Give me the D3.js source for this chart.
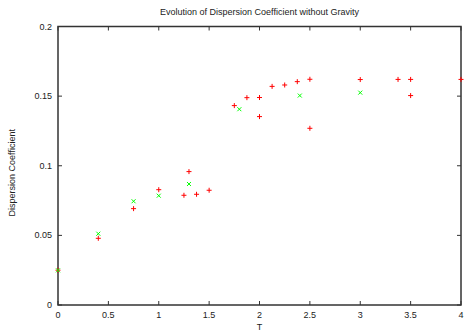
<!DOCTYPE html>
<html lang="en">
<head>
<meta charset="UTF-8">
<title>Evolution of Dispersion Coefficient without Gravity</title>
<script src="https://d3js.org/d3.v7.min.js"></script>
<style>
    body { margin: 0; background: white; }
    svg { display: block; font-family: "Liberation Sans", Arial, sans-serif; }
</style>
</head>
<body>
<svg width="464" height="333"></svg>
<script>
    // series 1 (red +)
    const redT = [0, 0.4, 0.75, 1, 1.25, 1.3, 1.375, 1.5, 1.75, 1.875, 2, 2, 2.125, 2.25, 2.375, 2.5, 2.5, 3, 3.375, 3.5, 3.5, 4];
    const redD = [0.025, 0.0479, 0.0692, 0.0828, 0.0788, 0.0958, 0.0795, 0.0824, 0.1432, 0.1489, 0.149, 0.1353, 0.157, 0.158, 0.1604, 0.1621, 0.1269, 0.1619, 0.162, 0.162, 0.1504, 0.162];
    // series 2 (green x)
    const greenT = [0, 0.4, 0.75, 1, 1.3, 1.8, 2.4, 3];
    const greenD = [0.0249, 0.0512, 0.0745, 0.0785, 0.0869, 0.1406, 0.1504, 0.1525];

    const xTicks = [0, 0.5, 1, 1.5, 2, 2.5, 3, 3.5, 4];
    const yTicks = [0, 0.05, 0.1, 0.15, 0.2];

    const svg = d3.select("svg");
    const m = { left: 58, right: 461, top: 26.5, bottom: 305 };

    const x = d3.scaleLinear().domain([0, 4]).range([m.left, m.right]);
    const y = d3.scaleLinear().domain([0, 0.2]).range([m.bottom, m.top]);

    const tickLen = 4;
    const axisColor = "#333";
    const textColor = "#222";

    // ticks on all four sides, pointing in
    const g = svg.append("g").attr("stroke", axisColor).attr("stroke-width", 1);
    xTicks.forEach(t => {
        g.append("line").attr("x1", x(t)).attr("x2", x(t)).attr("y1", m.bottom).attr("y2", m.bottom - tickLen);
        g.append("line").attr("x1", x(t)).attr("x2", x(t)).attr("y1", m.top).attr("y2", m.top + tickLen);
    });
    yTicks.forEach(t => {
        g.append("line").attr("x1", m.left).attr("x2", m.left + tickLen).attr("y1", y(t)).attr("y2", y(t));
        g.append("line").attr("x1", m.right).attr("x2", m.right - tickLen).attr("y1", y(t)).attr("y2", y(t));
    });

    svg.append("rect")
        .attr("x", m.left).attr("y", m.top)
        .attr("width", m.right - m.left).attr("height", m.bottom - m.top)
        .attr("fill", "none").attr("stroke", axisColor).attr("stroke-width", 1.5);

    svg.append("g").selectAll("text").data(xTicks).join("text")
        .attr("x", d => x(d)).attr("y", m.bottom + 13)
        .attr("text-anchor", "middle").attr("font-size", 9).attr("fill", textColor)
        .text(d => d);

    svg.append("g").selectAll("text").data(yTicks).join("text")
        .attr("x", m.left - 6).attr("y", d => y(d) + 3)
        .attr("text-anchor", "end").attr("font-size", 9).attr("fill", textColor)
        .text(d => d);

    svg.append("text")
        .attr("x", (m.left + m.right) / 2).attr("y", 15)
        .attr("text-anchor", "middle").attr("font-size", 9).attr("fill", textColor)
        .text("Evolution of Dispersion Coefficient without Gravity");

    svg.append("text")
        .attr("x", x(2)).attr("y", 330)
        .attr("text-anchor", "middle").attr("font-size", 9).attr("fill", textColor)
        .text("T");

    svg.append("text")
        .attr("transform", `translate(15,${(m.top + m.bottom) / 2 + 7}) rotate(-90)`)
        .attr("text-anchor", "middle").attr("font-size", 9).attr("fill", textColor)
        .text("Dispersion Coefficient");

    // red plus markers
    const s1 = 2.5;
    svg.append("g").selectAll("path").data(redT.map((t, i) => [t, redD[i]])).join("path")
        .attr("d", d => `M${x(d[0]) - s1},${y(d[1])}h${2 * s1}M${x(d[0])},${y(d[1]) - s1}v${2 * s1}`)
        .attr("stroke", "#ff0000").attr("stroke-width", 1).attr("fill", "none");

    // green cross markers
    const s2 = 2;
    svg.append("g").selectAll("path").data(greenT.map((t, i) => [t, greenD[i]])).join("path")
        .attr("d", d => `M${x(d[0]) - s2},${y(d[1]) - s2}l${2 * s2},${2 * s2}M${x(d[0]) - s2},${y(d[1]) + s2}l${2 * s2},${-2 * s2}`)
        .attr("stroke", "#00ff00").attr("stroke-width", 1).attr("fill", "none");
</script>
</body>
</html>
